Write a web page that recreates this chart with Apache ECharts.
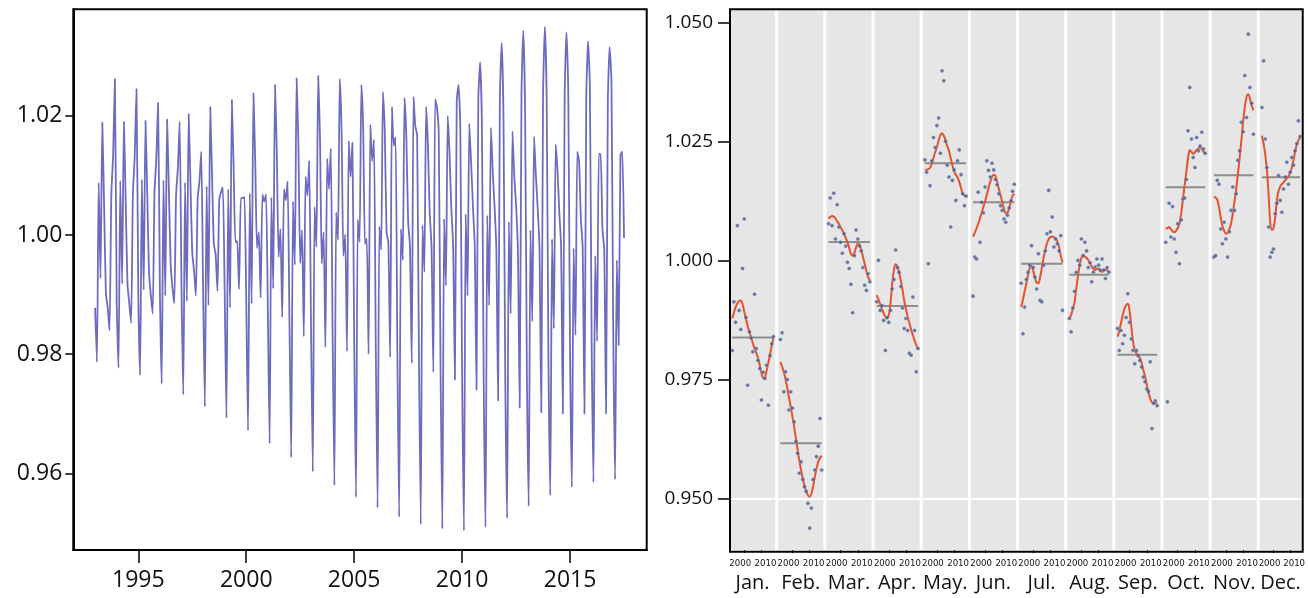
<!DOCTYPE html>
<html>
<head>
<meta charset="utf-8">
<script src="https://cdn.jsdelivr.net/npm/echarts@6/dist/echarts.min.js"></script>
<style>
  html, body { margin: 0; padding: 0; background: #ffffff; }
  #chart { width: 1308px; height: 598px; }
</style>
</head>
<body>
<div id="chart"></div>
<script>
// Years covered by the seasonal factors
const years = [1993, 1994, 1995, 1996, 1997, 1998, 1999, 2000, 2001, 2002, 2003, 2004, 2005,
               2006, 2007, 2008, 2009, 2010, 2011, 2012, 2013, 2014, 2015, 2016, 2017];
const monthLabels = ['Jan.', 'Feb.', 'Mar.', 'Apr.', 'May.', 'Jun.', 'Jul.', 'Aug.', 'Sep.', 'Oct.', 'Nov.', 'Dec.'];

// Tick labels
const seriesYearTicks = [1995, 2000, 2005, 2010, 2015];
const seriesValueTicks = [0.96, 0.98, 1.00, 1.02];
const panelYearTicks = [2000, 2010];
const panelValueTicks = [0.950, 0.975, 1.000, 1.025, 1.050];

// Seasonal factors, one value per year for each calendar month
const sfJan = [0.9878, 0.9890, 0.9902, 0.9910, 0.9915, 0.9916, 0.9908, 0.9893, 0.9877, 0.9862, 0.9850, 0.9838, 0.9826,
               0.9815, 0.9806, 0.9795, 0.9780, 0.9764, 0.9753, 0.9755, 0.9768, 0.9785, 0.9803, 0.9821, 0.9838];
const sfFeb = [0.9787, 0.9777, 0.9765, 0.9750, 0.9732, 0.9712, 0.9693, 0.9672, 0.9650, 0.9627, 0.9603, 0.9580, 0.9560,
               0.9542, 0.9527, 0.9515, 0.9507, 0.9504, 0.9510, 0.9525, 0.9545, 0.9563, 0.9577, 0.9585, 0.9590];
const sfMar = [1.0088, 1.0091, 1.0093, 1.0092, 1.0088, 1.0082, 1.0077, 1.0070, 1.0063, 1.0056, 1.0047, 1.0038, 1.0026,
               1.0014, 1.0010, 1.0016, 1.0027, 1.0035, 1.0033, 1.0022, 1.0008, 0.9993, 0.9978, 0.9965, 0.9958];
const sfApr = [0.9927, 0.9918, 0.9908, 0.9898, 0.9889, 0.9882, 0.9878, 0.9885, 0.9910, 0.9950, 0.9980, 0.9992, 0.9988,
               0.9975, 0.9958, 0.9938, 0.9915, 0.9898, 0.9882, 0.9868, 0.9855, 0.9843, 0.9832, 0.9822, 0.9815];
const sfMay = [1.0189, 1.0190, 1.0192, 1.0194, 1.0203, 1.0215, 1.0227, 1.0238, 1.0252, 1.0263, 1.0267, 1.0262, 1.0252,
               1.0240, 1.0230, 1.0215, 1.0200, 1.0187, 1.0180, 1.0174, 1.0165, 1.0152, 1.0140, 1.0136, 1.0134];
const sfJun = [1.0050, 1.0058, 1.0067, 1.0077, 1.0088, 1.0100, 1.0112, 1.0124, 1.0138, 1.0152, 1.0165, 1.0175, 1.0180,
               1.0178, 1.0165, 1.0150, 1.0137, 1.0122, 1.0108, 1.0099, 1.0100, 1.0110, 1.0124, 1.0136, 1.0140];
const sfJul = [0.9902, 0.9918, 0.9935, 0.9952, 0.9970, 0.9985, 0.9988, 0.9978, 0.9963, 0.9953, 0.9952, 0.9965, 0.9985,
               1.0005, 1.0022, 1.0036, 1.0045, 1.0049, 1.0050, 1.0049, 1.0046, 1.0040, 1.0028, 1.0010, 0.9995];
const sfAug = [0.9878, 0.9885, 0.9898, 0.9912, 0.9940, 0.9967, 0.9990, 1.0005, 1.0010, 1.0008, 1.0005, 1.0001, 0.9994,
               0.9987, 0.9982, 0.9980, 0.9982, 0.9983, 0.9980, 0.9976, 0.9978, 0.9981, 0.9979, 0.9976];
const sfSep = [0.9840, 0.9852, 0.9868, 0.9885, 0.9898, 0.9906, 0.9909, 0.9895, 0.9862, 0.9830, 0.9812, 0.9805, 0.9800,
               0.9795, 0.9785, 0.9770, 0.9757, 0.9740, 0.9722, 0.9710, 0.9702, 0.9700, 0.9700, 0.9700];
const sfOct = [1.0066, 1.0068, 1.0070, 1.0066, 1.0061, 1.0059, 1.0062, 1.0068, 1.0077, 1.0098, 1.0128, 1.0158, 1.0185,
               1.0215, 1.0232, 1.0228, 1.0224, 1.0227, 1.0232, 1.0235, 1.0237, 1.0234, 1.0228, 1.0224];
const sfNov = [1.0133, 1.0132, 1.0127, 1.0112, 1.0090, 1.0072, 1.0062, 1.0056, 1.0058, 1.0066, 1.0077, 1.0098, 1.0124,
               1.0150, 1.0182, 1.0215, 1.0252, 1.0290, 1.0322, 1.0343, 1.0349, 1.0340, 1.0325, 1.0315];
const sfDec = [1.0262, 1.0245, 1.0222, 1.0190, 1.0140, 1.0080, 1.0064, 1.0068, 1.0090, 1.0125, 1.0145, 1.0155, 1.0160,
               1.0164, 1.0168, 1.0172, 1.0177, 1.0183, 1.0195, 1.0210, 1.0228, 1.0243, 1.0252, 1.0258];

// Seasonal-irregular ratios, one value per year for each calendar month
const siJan = [0.9811, 0.9913, 0.9870, 1.0073, 0.9895, 0.9855, 0.9983, 1.0087, 0.9880, 0.9738, 0.9850, 0.9837, 0.9808,
               0.9929, 0.9815, 0.9790, 0.9773, 0.9707, 0.9765, 0.9752, 0.9780, 0.9696, 0.9800, 0.9825, 0.9840];
const siFeb = [0.9834, 0.9848, 0.9724, 0.9766, 0.9750, 0.9686, 0.9724, 0.9690, 0.9661, 0.9620, 0.9595, 0.9553, 0.9577,
               0.9540, 0.9525, 0.9515, 0.9490, 0.9438, 0.9480, 0.9540, 0.9560, 0.9588, 0.9610, 0.9668, 0.9560];
const siMar = [1.0077, 1.0131, 1.0073, 1.0141, 1.0045, 1.0117, 1.0070, 1.0038, 1.0015, 1.0056, 1.0030, 0.9996, 0.9983,
               0.9950, 0.9890, 1.0010, 1.0064, 1.0045, 1.0030, 1.0020, 0.9985, 0.9948, 0.9937, 0.9972, 0.9955];
const siApr = [0.9913, 1.0000, 0.9895, 0.9905, 0.9874, 0.9811, 0.9880, 0.9870, 0.9895, 0.9940, 0.9960, 1.0022, 0.9985,
               0.9975, 0.9945, 0.9900, 0.9857, 0.9878, 0.9853, 0.9805, 0.9801, 0.9923, 0.9853, 0.9766, 0.9815];
const siMay = [1.0211, 1.0185, 0.9993, 1.0157, 1.0209, 1.0258, 1.0237, 1.0283, 1.0299, 1.0225, 1.0398, 1.0377, 1.0250,
               1.0200, 1.0175, 1.0070, 1.0168, 1.0190, 1.0126, 1.0209, 1.0232, 1.0180, 1.0140, 1.0115, 1.0135];
const siJun = [0.9925, 1.0007, 1.0003, 1.0143, 1.0038, 1.0122, 1.0100, 1.0154, 1.0209, 1.0189, 1.0175, 1.0204, 1.0190,
               1.0170, 1.0159, 1.0140, 1.0115, 1.0105, 1.0087, 1.0080, 1.0095, 1.0110, 1.0125, 1.0145, 1.0160];
const siJul = [0.9952, 0.9846, 0.9902, 0.9960, 0.9975, 0.9990, 1.0031, 0.9985, 0.9965, 0.9940, 1.0014, 0.9916, 0.9913,
               0.9990, 1.0020, 1.0056, 1.0147, 1.0060, 1.0091, 1.0028, 1.0045, 1.0035, 1.0020, 1.0052, 0.9895];
const siAug = [0.9878, 0.9850, 0.9900, 0.9935, 0.9975, 1.0000, 0.9990, 1.0045, 1.0010, 1.0038, 1.0020, 0.9985, 0.9995,
               0.9955, 0.9975, 0.9986, 1.0003, 0.9990, 0.9979, 1.0003, 0.9980, 0.9962, 0.9985, 0.9975];
const siSep = [0.9857, 0.9811, 0.9853, 0.9825, 0.9843, 0.9880, 0.9930, 0.9870, 0.9835, 0.9811, 0.9783, 0.9811, 0.9800,
               0.9790, 0.9776, 0.9755, 0.9745, 0.9730, 0.9725, 0.9787, 0.9647, 0.9700, 0.9705, 0.9695];
const siOct = [1.0038, 0.9703, 1.0120, 1.0049, 1.0113, 1.0045, 1.0017, 1.0077, 0.9993, 1.0085, 1.0129, 1.0131, 1.0170,
               1.0272, 1.0363, 1.0255, 1.0216, 1.0195, 1.0258, 1.0230, 1.0240, 1.0269, 1.0234, 1.0225];
const siNov = [1.0007, 1.0010, 1.0168, 1.0160, 1.0066, 1.0035, 1.0080, 1.0045, 1.0007, 1.0060, 1.0105, 1.0154, 1.0105,
               1.0140, 1.0210, 1.0230, 1.0290, 1.0270, 1.0388, 1.0300, 1.0475, 1.0363, 1.0330, 1.0265];
const siDec = [1.0321, 1.0419, 1.0255, 1.0195, 1.0070, 1.0007, 1.0017, 1.0024, 1.0098, 1.0120, 1.0178, 1.0126, 1.0101,
               1.0150, 1.0175, 1.0206, 1.0160, 1.0185, 1.0216, 1.0200, 1.0230, 1.0245, 1.0293, 1.0260];

const sfByMonth = [sfJan, sfFeb, sfMar, sfApr, sfMay, sfJun, sfJul, sfAug, sfSep, sfOct, sfNov, sfDec];
const siByMonth = [siJan, siFeb, siMar, siApr, siMay, siJun, siJul, siAug, siSep, siOct, siNov, siDec];

// ---- layout ----
const FONT = "'Open Sans', 'Noto Sans', sans-serif";
const NARROW = "'Liberation Sans Narrow', 'DejaVu Sans Condensed', sans-serif";
const PANEL_TOP = 9.3, PANEL_H = 542.4;
const RIGHT_L = 730, RIGHT_R = 1302.7;
const STRIDE = 48.16, GAP = 3;
const PX_PER_YEAR = 1.72;
const PANEL_MIN_YEAR = 1991.72;
const yearText = v => String(Math.round(v));
// small year labels sit slightly apart from each other under their ticks
const yearLabelPadding = [[0, 8, 0, 0], [0, 0, 0, 8]];

// Monthly series in time order for the left chart
const timeSeries = [];
years.forEach((y, yi) => {
  sfByMonth.forEach((arr, m) => {
    if (yi < arr.length) timeSeries.push([y + m / 12, arr[yi]]);
  });
});

const grids = [{
  left: 73.3, top: PANEL_TOP, width: 573.4, height: 540.7,
  show: true, backgroundColor: '#ffffff', borderColor: '#000000', borderWidth: 2
}];
const xAxes = [{
  type: 'value', gridIndex: 0, min: 1991.99, max: 2018.55,
  axisLine: { show: true, onZero: false, lineStyle: { color: '#000', width: 2 } },
  axisTick: { show: true, customValues: seriesYearTicks, length: 13, lineStyle: { color: '#000', width: 1.5 } },
  axisLabel: { customValues: seriesYearTicks, fontSize: 23, fontFamily: FONT, color: '#111', margin: 19,
               formatter: yearText, showMinLabel: true, showMaxLabel: true },
  splitLine: { show: false }
}];
const yAxes = [{
  type: 'value', gridIndex: 0, min: 0.94715, max: 1.03787,
  axisLine: { show: true, onZero: false, lineStyle: { color: '#000', width: 2 } },
  axisTick: { show: true, customValues: seriesValueTicks, length: 8, lineStyle: { color: '#000', width: 1.5 } },
  axisLabel: { customValues: seriesValueTicks, fontSize: 23, fontFamily: FONT, color: '#111', margin: 11,
               formatter: v => v.toFixed(2), showMinLabel: true, showMaxLabel: true },
  splitLine: { show: false }
}];
const series = [{
  type: 'line', xAxisIndex: 0, yAxisIndex: 0, data: timeSeries,
  showSymbol: false, smooth: 0.2, lineStyle: { color: '#6c6cbf', width: 1.8 }, z: 3
}];

monthLabels.forEach((name, m) => {
  const left = m === 0 ? RIGHT_L : RIGHT_L + 46.7 + GAP / 2 + (m - 1) * STRIDE;
  const right = m === 11 ? RIGHT_R : RIGHT_L + 46.7 - GAP / 2 + m * STRIDE;
  const width = right - left;
  const gi = m + 1;
  const xMax = PANEL_MIN_YEAR + width / PX_PER_YEAR;
  grids.push({ left, top: PANEL_TOP, width, height: PANEL_H,
               show: true, backgroundColor: '#e6e6e6', borderWidth: 0 });
  // one bottom axis per year tick, so both small labels always show
  panelYearTicks.forEach((tick, k) => {
    xAxes.push({
      type: 'value', gridIndex: gi, position: 'bottom', offset: 0,
      min: PANEL_MIN_YEAR, max: xMax,
      name: k === 0 ? name : '', nameLocation: 'middle', nameGap: 16,
      nameTextStyle: { fontSize: 20, fontFamily: FONT, color: '#111' },
      axisLine: { show: false },
      axisTick: { show: true, customValues: [tick], length: 3, lineStyle: { color: '#000', width: 1 } },
      axisLabel: { customValues: [tick], fontSize: 9.5, fontFamily: NARROW, color: '#111', margin: 8,
                   padding: yearLabelPadding[k],
                   formatter: yearText, showMinLabel: true, showMaxLabel: true },
      splitLine: { show: false }
    });
  });
  const xi = 1 + m * panelYearTicks.length;
  yAxes.push({
    type: 'value', gridIndex: gi, min: 0.93918, max: 1.05272,
    show: m === 0,
    axisLine: { show: false },
    axisTick: { show: m === 0, customValues: panelValueTicks, length: 12, lineStyle: { color: '#000', width: 1.5 } },
    axisLabel: { show: m === 0, customValues: panelValueTicks, fontSize: 19, fontFamily: FONT, color: '#111',
                 margin: 17, formatter: v => v.toFixed(3), showMinLabel: true, showMaxLabel: true },
    splitLine: { show: false }
  });

  const sf = sfByMonth[m];
  const si = siByMonth[m];
  const mean = sf.reduce((a, b) => a + b, 0) / sf.length;

  // mean level of the month, with the white reference line at 0.950
  series.push({
    type: 'line', xAxisIndex: xi, yAxisIndex: gi,
    data: [[years[0], mean], [years[sf.length - 1], mean]],
    showSymbol: false, lineStyle: { color: '#8d8d8d', width: 2 }, z: 2,
    markLine: {
      silent: true, symbol: 'none', label: { show: false },
      lineStyle: { color: '#ffffff', width: 2, type: 'solid' },
      data: [{ yAxis: 0.95 }], z: 1
    }
  });
  // seasonal factor curve
  series.push({
    type: 'line', xAxisIndex: xi, yAxisIndex: gi,
    data: sf.map((v, i) => [years[i], v]),
    smooth: 0.35, showSymbol: false,
    lineStyle: { color: '#e8512d', width: 2 }, z: 3
  });
  // SI ratios
  series.push({
    type: 'scatter', xAxisIndex: xi, yAxisIndex: gi,
    data: si.map((v, i) => [years[i], v]),
    symbol: 'circle', symbolSize: 3.6,
    itemStyle: { color: '#4b5680', borderColor: 'rgba(150,180,230,0.6)', borderWidth: 0.8 }, z: 4
  });
});

const chart = echarts.init(document.getElementById('chart'), null, { renderer: 'canvas' });
chart.setOption({
  animation: false,
  backgroundColor: '#ffffff',
  grid: grids,
  xAxis: xAxes,
  yAxis: yAxes,
  series,
  graphic: [{
    type: 'rect', z: 100, silent: true,
    shape: { x: RIGHT_L, y: PANEL_TOP, width: RIGHT_R - RIGHT_L, height: PANEL_H },
    style: { fill: 'none', stroke: '#000000', lineWidth: 2 }
  }]
});
</script>
</body>
</html>
